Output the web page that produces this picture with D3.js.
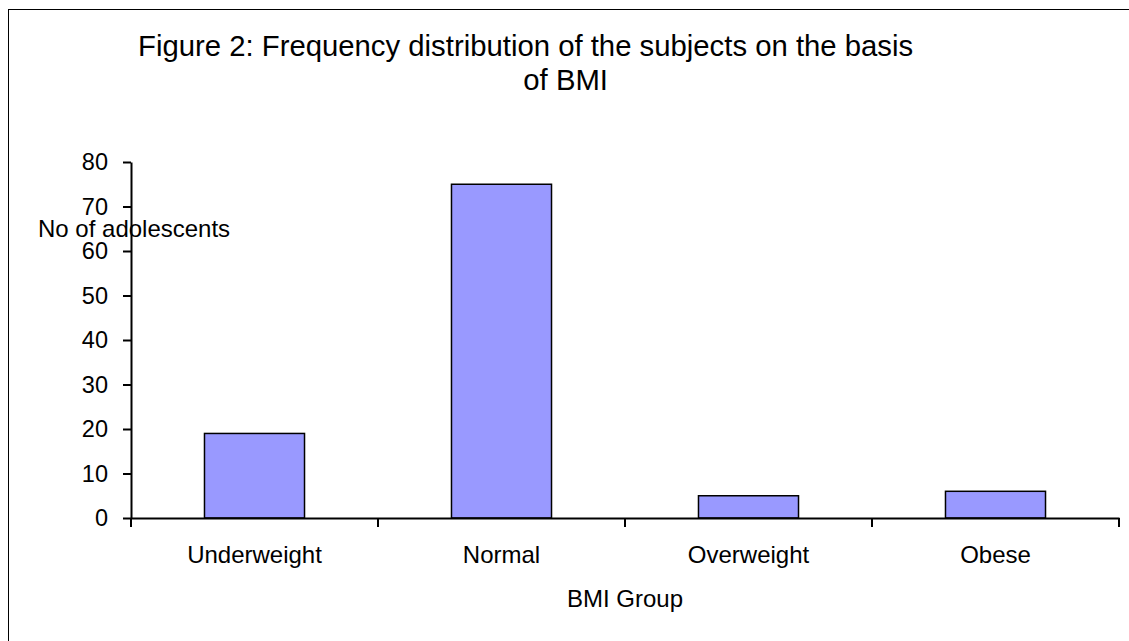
<!DOCTYPE html>
<html>
<head>
<meta charset="utf-8">
<script src="https://cdn.jsdelivr.net/npm/d3@7"></script>
<style>
  html, body { margin: 0; padding: 0; background: #fff; }
  svg { display: block; font-family: Arial, "Liberation Sans", sans-serif; }
</style>
</head>
<body>
<svg id="chart" width="1129" height="641"></svg>
<script>
// BMI groups and number of adolescents in each
const categories = ["Underweight", "Normal", "Overweight", "Obese"];
const counts = [19, 75, 5, 6];
const yTicks = [0, 10, 20, 30, 40, 50, 60, 70, 80];

const titleLines = ["Figure 2: Frequency distribution of the subjects on the basis", "of BMI"];
const yTitle = "No of adolescents";
const xTitle = "BMI Group";

const FONT = "Arial, 'Liberation Sans', sans-serif";
const svg = d3.select("#chart");

// outer frame
svg.append("rect")
  .attr("x", 8.5).attr("y", 9.5)
  .attr("width", 1140).attr("height", 660)
  .attr("fill", "#fff").attr("stroke", "#000").attr("stroke-width", 1);

const plot = { left: 131, right: 1119, top: 162, bottom: 518 };

const x = d3.scaleBand().domain(categories).range([plot.left, plot.right]).paddingInner(0).paddingOuter(0);
const y = d3.scaleLinear().domain([0, 80]).range([plot.bottom, plot.top]);

const barW = x.bandwidth() * 0.405;

// bars
svg.append("g").selectAll("rect")
  .data(categories.map((c, i) => ({ c, v: counts[i] })))
  .join("rect")
  .attr("x", d => x(d.c) + x.bandwidth() / 2 - barW / 2)
  .attr("y", d => y(d.v))
  .attr("width", barW)
  .attr("height", d => y(0) - y(d.v))
  .attr("fill", "#9999ff")
  .attr("stroke", "#000")
  .attr("stroke-width", 1.5);

// y axis
const yAxis = svg.append("g")
  .attr("transform", `translate(${plot.left},0)`)
  .call(d3.axisLeft(y).tickValues(yTicks).tickSize(8).tickSizeOuter(0).tickPadding(15));
yAxis.select(".domain").attr("stroke-width", 2);
yAxis.selectAll(".tick line").attr("stroke-width", 2);
yAxis.selectAll(".tick text")
  .attr("font-size", 23.5).attr("fill", "#000").attr("font-family", FONT);

// x axis: ticks sit on category boundaries
const xAxis = svg.append("g")
  .attr("transform", `translate(0,${plot.bottom})`)
  .call(d3.axisBottom(x).tickSize(0).tickSizeOuter(0).tickPadding(28));
xAxis.select(".domain").attr("stroke-width", 2);
xAxis.selectAll(".tick text")
  .attr("font-size", 24).attr("fill", "#000").attr("font-family", FONT);

const boundaries = categories.map(c => x(c)).concat([x(categories[categories.length - 1]) + x.bandwidth()]);
svg.append("g").selectAll("line")
  .data(boundaries)
  .join("line")
  .attr("x1", d => d).attr("x2", d => d)
  .attr("y1", plot.bottom).attr("y2", plot.bottom + 9)
  .attr("stroke", "#000").attr("stroke-width", 2);

// titles
svg.append("text")
  .attr("x", 138).attr("y", 56)
  .attr("font-size", 29.3).attr("fill", "#000")
  .text(titleLines[0]);
svg.append("text")
  .attr("x", 608).attr("y", 90)
  .attr("text-anchor", "end")
  .attr("font-size", 29.3).attr("fill", "#000")
  .text(titleLines[1]);

svg.append("text")
  .attr("x", 38).attr("y", 237)
  .attr("font-size", 24).attr("fill", "#000")
  .text(yTitle);

svg.append("text")
  .attr("x", (plot.left + plot.right) / 2).attr("y", 607)
  .attr("text-anchor", "middle")
  .attr("font-size", 24).attr("fill", "#000")
  .text(xTitle);
</script>
</body>
</html>
